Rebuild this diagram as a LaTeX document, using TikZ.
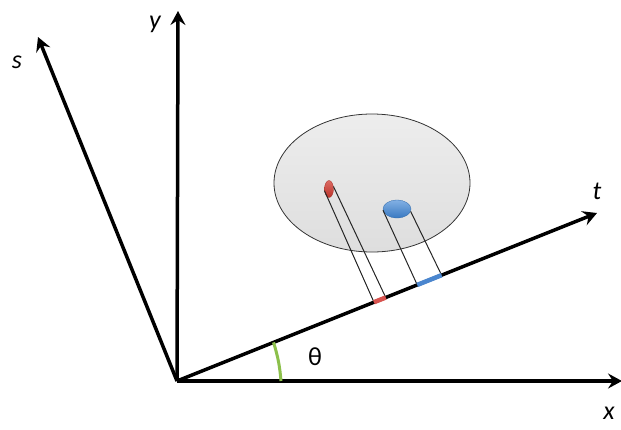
\documentclass[tikz,border=0pt]{standalone}
\usepackage{fontspec}
\setmainfont{Carlito}
\usetikzlibrary{arrows.meta,calc,shapes.geometric}
\definecolor{redblob}{HTML}{D0392F}
\definecolor{blueblob}{HTML}{3F86D6}
\definecolor{redseg}{HTML}{D9534F}
\definecolor{blueseg}{HTML}{4A86CF}
\definecolor{greenarc}{HTML}{8CC04B}
\tikzset{
  axis/.style={line width=3.5pt, -{Stealth[length=14pt,width=15pt,inset=5pt]}},
  lbl/.style={font=\fontsize{26}{30}\selectfont\itshape, inner sep=0pt},
  proj/.style={line width=1pt, black!85},
  seg/.style={line width=4.5pt},
}
\begin{document}
\begin{tikzpicture}[x=1pt,y=-1pt]
\useasboundingbox (0,0) rectangle (621,429);
\coordinate (O) at (177,381);
\coordinate (X) at (622,381);
\coordinate (Y) at (178,11);
\coordinate (T) at (597,213);
\coordinate (S) at (38,37);
% big ellipse
\node[ellipse, draw=black!80, line width=0.8pt, minimum width=196pt, minimum height=138pt,
      top color=gray!14, bottom color=gray!26, inner sep=0pt] (E) at (372,183) {};
% axes
\draw[axis] (O) -- (X);
\draw[axis] (O) -- (Y);
\draw[axis] (O) -- (T);
\draw[axis] (O) -- (S);
% labels
\node[lbl] (ls) at (17,62) {s};
\node[lbl] (ly) at (155,24) {y};
\node[lbl] (lt) at (597,191) {t};
\node[lbl] (lx) at (609,413) {x};
\node[font=\fontsize{26}{30}\selectfont, inner sep=0pt] (th) at (315,357) {θ};
% green angle arc
\coordinate (G0) at (281,381);
\coordinate (G1) at ($(O)!104/452.4!(T)$);
\draw[greenarc, line width=3pt] (G0) to[bend right=6] (G1);
% segments on t axis
\coordinate (r1) at ($(O)!0.469!(T)$);
\coordinate (r2) at ($(O)!0.497!(T)$);
\coordinate (b1) at ($(O)!0.572!(T)$);
\coordinate (b2) at ($(O)!0.630!(T)$);
% blobs
\node[ellipse, minimum width=9pt, minimum height=17pt, inner sep=0pt,
      top color=redblob!75, bottom color=redblob!90!black, draw=redblob!80!black, line width=0.3pt] (R) at (329,189) {};
\node[ellipse, minimum width=28pt, minimum height=18pt, inner sep=0pt,
      top color=blueblob!65, bottom color=blueblob!90!black, draw=blueblob!80!black, line width=0.3pt] (B) at (397,209) {};
% projection lines
\draw[proj] (R.200) -- (r1);
\draw[proj] (R.30) -- (r2);
\draw[proj] (B.185) -- (b1);
\draw[proj] (B.350) -- (b2);
\draw[seg, redseg] (r1) -- (r2);
\draw[seg, blueseg] (b1) -- (b2);
\end{tikzpicture}
\end{document}
